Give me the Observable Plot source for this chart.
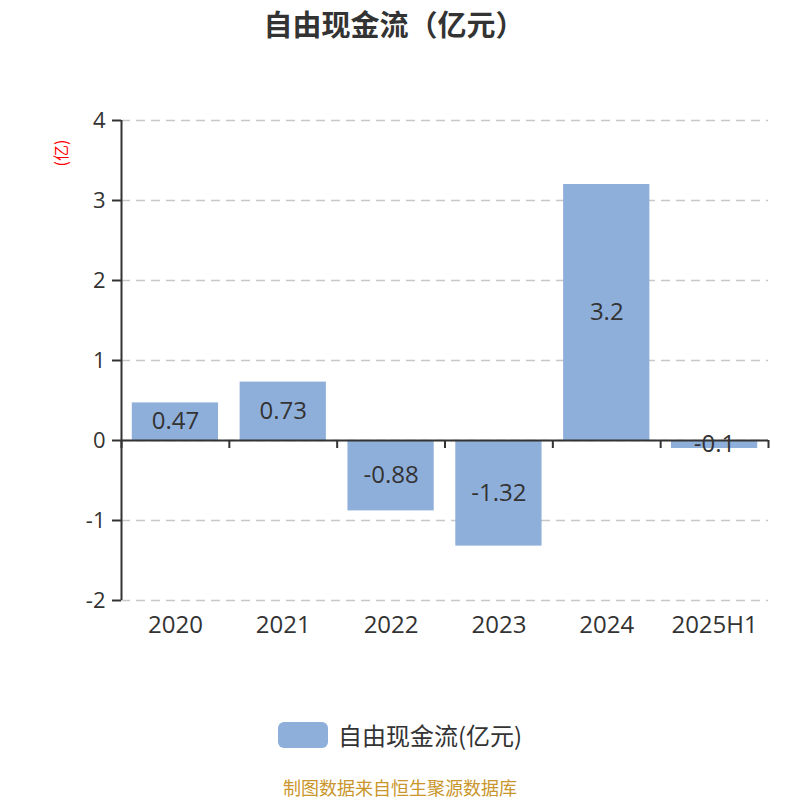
<!DOCTYPE html>
<html>
<head>
<meta charset="utf-8">
<script src="https://cdn.jsdelivr.net/npm/d3@7"></script>
<script src="https://cdn.jsdelivr.net/npm/@observablehq/plot@0.6"></script>
<style>
  body { margin: 0; background: #fff; font-family: "Open Sans", "Noto Sans CJK SC", sans-serif; }
  #wrap { position: relative; width: 800px; height: 800px; overflow: hidden; }
  #title { position: absolute; top: 2px; left: 0; width: 788px; text-align: center; font-size: 29px; line-height: 42px; font-weight: bold; color: #333; font-family: "Noto Sans CJK SC", sans-serif; }
  #chart { position: absolute; top: 0; left: 0; }
  #ylab { position: absolute; left: 44px; top: 143px; width: 32px; text-align: center; font-size: 16px; line-height: 20px; color: #ff0000; transform: rotate(-90deg); transform-origin: center; font-family: "Noto Sans CJK SC", sans-serif; }
  #legend { position: absolute; top: 720px; left: 278px; display: flex; align-items: center; font-size: 24px; line-height: 30px; color: #333; font-family: "Noto Sans CJK SC", sans-serif; }
  #legend .sw { width: 50px; height: 26px; border-radius: 6px; background: #8fafdb; margin-right: 10px; }
  #footer { position: absolute; top: 777px; left: 0; width: 800px; text-align: center; font-size: 18px; line-height: 20px; color: #c9962b; font-family: "Noto Sans CJK SC", sans-serif; }
</style>
</head>
<body>
<div id="wrap">
  <div id="chart"></div>
  <div id="title">自由现金流（亿元）</div>
  <div id="ylab">(亿)</div>
  <div id="legend"><div class="sw"></div><span>自由现金流(亿元)</span></div>
  <div id="footer">制图数据来自恒生聚源数据库</div>
</div>
<script>
const categories = ["2020", "2021", "2022", "2023", "2024", "2025H1"];
const values = [0.47, 0.73, -0.88, -1.32, 3.2, -0.1];
const yTicks = [-2, -1, 0, 1, 2, 3, 4];

const data = categories.map((c, i) => ({cat: c, val: values[i]}));

const W = 800, H = 700, mL = 121, mR = 32, mT = 120, mB = 100;
const step = (W - mL - mR) / categories.length;
const barColor = "#8fafdb";
const ink = "#333";

const chart = Plot.plot({
  width: W,
  height: H,
  marginLeft: mL,
  marginRight: mR,
  marginTop: mT,
  marginBottom: mB,
  style: {fontFamily: '"Open Sans", "Noto Sans CJK SC", sans-serif', color: ink, background: "transparent", overflow: "visible"},
  x: {domain: categories, paddingInner: 0.2, paddingOuter: 0.1, round: false, label: null},
  y: {domain: [-2, 4], label: null},
  marks: [
    Plot.gridY(yTicks, {stroke: "#c8c8c8", strokeOpacity: 1, strokeDasharray: "9,6", strokeWidth: 1.5}),
    Plot.barY(data, {x: "cat", y: "val", fill: barColor}),
    Plot.ruleY([0], {stroke: ink, strokeWidth: 2}),
    Plot.ruleX(categories, {x: d => d, y1: 0, y2: -0.1, dx: -step / 2, stroke: ink, strokeWidth: 2}),
    Plot.ruleX([categories[categories.length - 1]], {x: d => d, y1: 0, y2: -0.1, dx: step / 2, stroke: ink, strokeWidth: 2}),
    Plot.ruleX([categories[0]], {x: d => d, y1: -2, y2: 4, dx: -step / 2, stroke: ink, strokeWidth: 2}),
    Plot.axisY({ticks: yTicks, tickSize: 9, tickPadding: 7, fontSize: 22, stroke: ink, strokeWidth: 2, label: null, tickFormat: d => String(d)}),
    Plot.axisX({tickSize: 0, tickPadding: 15, fontSize: 24, label: null}),
    Plot.text(data, {x: "cat", y: d => d.val / 2, text: d => String(d.val), fontSize: 24, fill: ink})
  ]
});
document.getElementById("chart").appendChild(chart);
</script>
</body>
</html>
